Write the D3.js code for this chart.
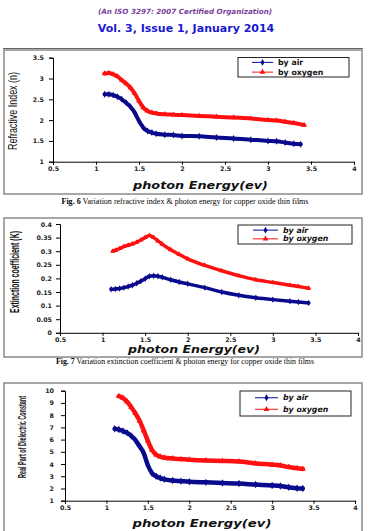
<!DOCTYPE html>
<html><head><meta charset="utf-8">
<script src="https://cdn.jsdelivr.net/npm/d3@7"></script>
<style>
body{margin:0;background:#fff;}
svg{display:block;}
</style></head>
<body>
<svg id="c" width="369" height="531"></svg>
<script>
// ---- data ----
const energyTicks = [0.5, 1, 1.5, 2, 2.5, 3, 3.5, 4];
const seriesNames = ["by air", "by oxygen"];

const nAirE = [1.10,1.15,1.20,1.25,1.30,1.35,1.40,1.45,1.50,1.55,1.60,1.65,1.70,1.80,1.90,2.00,2.20,2.40,2.60,2.80,3.00,3.10,3.20,3.30,3.38];
const nAir  = [2.62,2.62,2.60,2.56,2.50,2.42,2.32,2.18,1.98,1.82,1.74,1.70,1.67,1.65,1.64,1.62,1.61,1.58,1.56,1.53,1.50,1.49,1.46,1.43,1.42];
const nOxE  = [1.10,1.15,1.20,1.25,1.30,1.35,1.40,1.45,1.50,1.55,1.60,1.65,1.70,1.80,1.90,2.00,2.20,2.40,2.60,2.80,3.00,3.10,3.20,3.30,3.42];
const nOx   = [3.12,3.13,3.10,3.05,2.96,2.88,2.78,2.64,2.46,2.30,2.22,2.18,2.16,2.14,2.13,2.12,2.10,2.08,2.06,2.04,2.00,1.99,1.96,1.93,1.88];
const nTicks = [1, 1.5, 2, 2.5, 3, 3.5];

const kAirE = [1.10,1.15,1.20,1.25,1.30,1.35,1.40,1.45,1.50,1.55,1.60,1.65,1.70,1.80,1.90,2.00,2.20,2.40,2.60,2.80,3.00,3.20,3.30,3.42];
const kAir  = [0.160,0.161,0.163,0.166,0.170,0.175,0.182,0.190,0.199,0.208,0.210,0.208,0.204,0.195,0.187,0.180,0.166,0.150,0.138,0.129,0.122,0.116,0.113,0.110];
const kOxE  = [1.12,1.15,1.20,1.25,1.30,1.35,1.40,1.45,1.50,1.55,1.60,1.65,1.70,1.80,1.90,2.00,2.20,2.40,2.60,2.80,3.00,3.20,3.30,3.42];
const kOx   = [0.300,0.303,0.310,0.317,0.322,0.327,0.333,0.341,0.350,0.358,0.350,0.338,0.326,0.305,0.288,0.272,0.248,0.228,0.210,0.195,0.185,0.175,0.170,0.164];
const kTicks = [0, 0.05, 0.1, 0.15, 0.2, 0.25, 0.3, 0.35, 0.4];

const eAirE = [1.10,1.15,1.20,1.25,1.30,1.35,1.40,1.45,1.50,1.55,1.60,1.65,1.70,1.80,1.90,2.00,2.20,2.40,2.60,2.80,3.00,3.10,3.20,3.30,3.37];
const eAir  = [6.88,6.82,6.70,6.55,6.30,5.95,5.45,4.90,3.90,3.25,3.00,2.85,2.75,2.65,2.60,2.55,2.50,2.45,2.40,2.32,2.25,2.20,2.10,2.02,2.00];
const eOxE  = [1.15,1.20,1.25,1.30,1.35,1.40,1.45,1.50,1.55,1.60,1.65,1.70,1.80,1.90,2.00,2.20,2.40,2.60,2.80,3.00,3.10,3.20,3.30,3.37];
const eOx   = [9.55,9.40,9.10,8.65,8.15,7.55,6.75,5.90,5.15,4.75,4.60,4.52,4.45,4.40,4.35,4.28,4.25,4.20,4.05,3.95,3.88,3.75,3.65,3.60];
const eTicks = [1,2,3,4,5,6,7,8,9,10];

const airColor = "#0a0a8c", oxColor = "#ff1010";
const svg = d3.select("#c");

// header
svg.append("text").attr("x",185).attr("y",14).attr("text-anchor","middle")
  .attr("font-family","DejaVu Sans").attr("font-style","italic").attr("font-weight","bold")
  .attr("font-size",7.2).attr("fill","#7a3f9d").text("(An ISO 3297: 2007 Certified Organization)");
svg.append("text").attr("x",186).attr("y",32).attr("text-anchor","middle")
  .attr("font-family","DejaVu Sans").attr("font-weight","bold")
  .attr("font-size",11).attr("fill","#1a1ad0").text("Vol. 3, Issue 1, January 2014");
svg.append("line").attr("x1",3).attr("x2",363).attr("y1",48.5).attr("y2",48.5)
  .attr("stroke","#666").attr("stroke-width",1);

function zip(xs, ys){ return xs.map((x,i)=>({x:x, y:ys[i]})); }

function chart(o){
  const g = svg.append("g");
  g.append("rect").attr("x",o.box[0]).attr("y",o.box[1]).attr("width",o.box[2]-o.box[0]).attr("height",o.box[3]-o.box[1])
    .attr("fill","#fff").attr("stroke","#8a8a8a").attr("stroke-width",1.5);
  const x = d3.scaleLinear().domain([0.5,4]).range([o.px[0],o.px[1]]);
  const y = d3.scaleLinear().domain(o.ydom).range([o.py[1],o.py[0]]);
  const xa = g.append("g").attr("transform",`translate(0,${o.py[1]})`)
    .call(d3.axisBottom(x).tickValues(energyTicks).tickSize(3).tickFormat(d3.format("")));
  const ya = g.append("g").attr("transform",`translate(${o.px[0]},0)`)
    .call(d3.axisLeft(y).tickValues(o.yticks).tickSize(4).tickFormat(d=>String(+d.toFixed(2))));
  [xa,ya].forEach(a=>{
    a.select(".domain").attr("stroke","#000").attr("stroke-width",1);
    a.selectAll(".tick line").attr("stroke","#000");
    a.selectAll("text").attr("font-family","DejaVu Sans, Verdana").attr("font-weight","bold")
      .attr("font-size",6.3).attr("fill","#222");
  });
  xa.selectAll("text").attr("dy",null).attr("y",o.xtickDy);
  ya.selectAll("text").attr("x",-o.ytickDx);

  const line = d3.line().x(d=>x(d.x)).y(d=>y(d.y)).curve(d3.curveMonotoneX);
  const sets = [{d:o.air,c:airColor,t:"diamond"},{d:o.ox,c:oxColor,t:"triangle"}];
  sets.forEach(s=>{
    g.append("path").datum(s.d).attr("d",line).attr("fill","none")
      .attr("stroke",s.c).attr("stroke-width",o.lw).attr("stroke-linejoin","round").attr("stroke-linecap","round");
    const sym = d3.symbol().type(s.t==="diamond"?d3.symbolDiamond:d3.symbolTriangle).size(o.ms);
    g.selectAll(null).data(s.d).enter().append("path").attr("d",sym)
      .attr("transform",d=>`translate(${x(d.x)},${y(d.y)})`).attr("fill",s.c);
  });

  // legend
  const L = o.leg;
  g.append("rect").attr("x",L[0]).attr("y",L[1]).attr("width",L[2]-L[0]).attr("height",L[3]-L[1])
    .attr("fill","#fff").attr("stroke","#222").attr("stroke-width",1);
  seriesNames.forEach((nm,i)=>{
    const h = L[3]-L[1];
    const yy = i===0 ? L[1] + h*o.legRow : L[3] - h*o.legRow;
    const c = i===0?airColor:oxColor;
    g.append("line").attr("x1",L[0]+o.legL[0]).attr("x2",L[0]+o.legL[1]).attr("y1",yy).attr("y2",yy)
      .attr("stroke",c).attr("stroke-width",1);
    g.append("path").attr("d",d3.symbol().type(i===0?d3.symbolDiamond:d3.symbolTriangle).size(14))
      .attr("transform",`translate(${L[0]+(o.legL[0]+o.legL[1])/2},${yy})`).attr("fill",c);
    g.append("text").attr("x",L[0]+o.legL[2]).attr("y",yy+2.6).attr("font-family","DejaVu Sans, Verdana")
      .attr("font-weight","bold").attr("font-style",o.legItalic?"italic":"normal")
      .attr("font-size",o.legSize).attr("fill","#111").text(nm);
  });

  // axis titles
  g.append("text").attr("x",(o.px[0]+o.px[1])/2 + o.xlabShift).attr("y",o.xlabY).attr("text-anchor","middle")
    .attr("font-family","DejaVu Sans, Verdana").attr("font-weight","bold").attr("font-style","italic")
    .attr("font-size",o.xlabSize).attr("textLength",o.xlabLen).attr("lengthAdjust","spacingAndGlyphs")
    .attr("fill","#111").text("photon Energy(ev)");
  g.append("text").attr("transform",`translate(${o.ytit[0]},${o.ytit[1]}) rotate(-90)`).attr("text-anchor","middle")
    .attr("font-family","Liberation Sans, Arial")
    .attr("font-weight",o.ytitBold?"bold":"normal")
    .attr("font-size",o.ytitSize).attr("textLength",o.ytitLen).attr("lengthAdjust","spacingAndGlyphs")
    .attr("fill","#111").text(o.ytitle);

  if(o.cap){
    const t = g.append("text").attr("x",185).attr("y",o.cap.y).attr("text-anchor","middle")
      .attr("font-family","Liberation Serif, Times New Roman").attr("font-size",7.5)
      .attr("textLength",o.cap.len).attr("lengthAdjust","spacingAndGlyphs").attr("fill","#000");
    t.append("tspan").attr("font-weight","bold").text(o.cap.fig);
    t.append("tspan").text(" "+o.cap.text);
  }
}

chart({box:[4,50,362,194], px:[53,354], py:[57.7,161.7], ydom:[1,3.5], yticks:nTicks,
  air:zip(nAirE,nAir), ox:zip(nOxE,nOx), lw:4, ms:14,
  leg:[238,57.5,349,77], legRow:0.25, legL:[14,35,40], legSize:7.8, legItalic:false, xtickDy:9, ytickDx:9,
  xlabY:189, xlabSize:10.5, xlabLen:135, xlabShift:-3, ytit:[17,111], ytitle:"Refractive Index (n)", ytitBold:false, ytitSize:12.5, ytitLen:78,
  cap:{y:204, fig:"Fig. 6", text:"Variation refractive index & photon energy for copper oxide thin films", len:247}});

chart({box:[4,218,362,357], px:[60,358], py:[224,332.8], ydom:[0,0.4], yticks:kTicks,
  air:zip(kAirE,kAir), ox:zip(kOxE,kOx), lw:3.5, ms:12,
  leg:[238,225,352,244], legRow:0.27, legL:[15,40,45], legSize:7.8, legItalic:true, xtickDy:9, ytickDx:8,
  xlabY:353, xlabSize:10.5, xlabLen:132, xlabShift:-15, ytit:[19,272], ytitle:"Extinction coefficient (K)", ytitBold:true, ytitSize:12.5, ytitLen:82,
  cap:{y:364, fig:"Fig. 7", text:"Variation extinction coefficient & photon energy for copper oxide thin films", len:258}});

chart({box:[4,383,362,545], px:[65,355], py:[390.7,500.7], ydom:[1,10], yticks:eTicks,
  air:zip(eAirE,eAir), ox:zip(eOxE,eOx), lw:4.5, ms:16,
  leg:[240,391,351,416], legRow:0.27, legL:[15,38,43], legSize:7.8, legItalic:true, xtickDy:9, ytickDx:11,
  xlabY:527, xlabSize:10.5, xlabLen:139, xlabShift:-8, ytit:[26,437], ytitle:"Real Part of Dielectric Constant", ytitBold:true, ytitSize:11, ytitLen:82});
</script>
</body></html>
